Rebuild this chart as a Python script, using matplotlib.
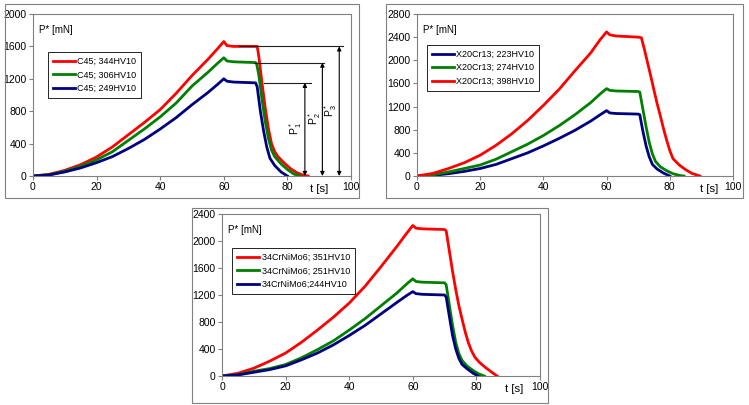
import numpy as np
import matplotlib.pyplot as plt
from matplotlib.patches import Rectangle

plt.rcParams['font.family'] = ['Liberation Sans', 'DejaVu Sans']

# --- C45 ---
c45_344_t = [0, 5, 10, 15, 20, 25, 30, 35, 40, 45, 50, 55, 58, 60, 61, 63, 70, 70.5, 71, 72, 73, 74, 75, 76, 77, 79, 81, 83, 85, 86.5]
c45_344_p = [0, 20, 70, 140, 235, 360, 510, 660, 820, 1020, 1240, 1440, 1570, 1660, 1610, 1600, 1600, 1600, 1480, 1150, 850, 590, 400, 300, 240, 160, 90, 40, 10, 0]
c45_306_t = [0, 5, 10, 15, 20, 25, 30, 35, 40, 45, 50, 55, 58, 60, 61, 63, 70, 70.3, 71, 72, 73, 74, 75, 76, 78, 80, 82, 84]
c45_306_p = [0, 15, 60, 120, 200, 300, 440, 580, 730, 900, 1110, 1280, 1390, 1460, 1420, 1410, 1400, 1390, 1250, 950, 680, 470, 320, 240, 150, 80, 25, 0]
c45_249_t = [0, 5, 10, 15, 20, 25, 30, 35, 40, 45, 50, 55, 58, 60, 61, 63, 70, 70.5, 71.5, 72.5, 73.5, 74.5, 76, 78, 80]
c45_249_p = [0, 12, 50, 100, 165, 240, 340, 450, 580, 720, 880, 1030, 1130, 1200, 1170, 1160, 1150, 1100, 800, 560, 360, 220, 130, 50, 0]

# --- X20Cr13 ---
x20_223_t = [0, 5, 10, 15, 20, 25, 30, 35, 40, 45, 50, 55, 58, 60, 61, 63, 70, 70.5, 71.5, 72.5, 73.5, 74.5, 76, 78, 80]
x20_223_p = [0, 10, 40, 80, 130, 200, 300, 400, 520, 650, 790, 950, 1060, 1130, 1090, 1080, 1070, 1060, 770, 520, 330, 200, 120, 50, 0]
x20_274_t = [0, 5, 10, 15, 20, 25, 30, 35, 40, 45, 50, 55, 58, 60, 61, 63, 70, 70.5, 71.5, 72.5, 73.5, 74.5, 75.5, 77, 79, 81, 83, 84.5]
x20_274_p = [0, 20, 70, 130, 190, 290, 420, 550, 700, 870, 1060, 1270, 1420, 1510, 1480, 1470, 1460, 1450, 1150, 850, 580, 380, 250, 160, 90, 40, 10, 0]
x20_398_t = [0, 5, 10, 15, 20, 25, 30, 35, 40, 45, 50, 55, 58, 60, 61, 63, 70, 71, 72, 73, 74, 75, 76, 77, 78, 79, 80, 81, 83, 85, 87, 89.5]
x20_398_p = [0, 45, 130, 230, 360, 530, 730, 960, 1220, 1500, 1820, 2130, 2360, 2490, 2440, 2420, 2400, 2390, 2180, 1950, 1720, 1480, 1250, 1040, 820, 620, 440, 300, 190, 110, 45, 0]

# --- 34CrNiMo6 ---
cr_351_t = [0, 5, 10, 15, 20, 25, 30, 35, 40, 45, 50, 55, 58, 60, 61, 63, 70, 70.5, 71.5, 72.5, 73.5, 74.5, 75.5, 76.5, 77.5, 78.5, 79.5, 81, 83, 85, 86.5]
cr_351_p = [0, 40, 115, 220, 340, 500, 680, 870, 1080, 1330, 1620, 1920, 2110, 2230, 2190, 2180, 2170, 2150, 1850, 1550, 1280, 1040, 840, 650, 490, 370, 280, 200, 120, 50, 0]
cr_251_t = [0, 5, 10, 15, 20, 25, 30, 35, 40, 45, 50, 55, 58, 60, 61, 63, 70, 70.5, 71.5, 72.5, 73.5, 74.5, 75.5, 77, 79, 81, 82.5]
cr_251_p = [0, 20, 70, 110, 170, 270, 390, 520, 680, 850, 1040, 1230, 1360, 1440, 1400, 1390, 1380, 1350, 1050, 750, 500, 330, 230, 150, 80, 25, 0]
cr_244_t = [0, 5, 10, 15, 20, 25, 30, 35, 40, 45, 50, 55, 58, 60, 61, 63, 70, 70.5, 71.5, 72.5, 73.5, 74.5, 75.5, 77, 79, 80.5]
cr_244_p = [0, 15, 55, 95, 150, 240, 340, 460, 600, 750, 920, 1090, 1190, 1250, 1220, 1210, 1200, 1170, 880, 600, 400, 260, 170, 110, 40, 0]

# annotation levels (panel 1)
p_levels = [1150, 1400, 1600]
p_line_start = [72.6, 69.5, 64.7]
p_line_end = [87.4, 91.4, 97.4]
p_arrow_x = [85.5, 91.0, 96.3]
p_label_x = [82.6, 88.4, 93.7]
p_label_y = [585, 710, 810]
p_labels = [r'$\mathregular{P_1^*}$', r'$\mathregular{P_2^*}$', r'$\mathregular{P_3^*}$']

RED, GREEN, BLUE = '#ff0000', '#008000', '#000080'
GRAY = '#808080'
W, H = 749, 405

fig = plt.figure(figsize=(W / 100, H / 100), dpi=100)


def px_axes(x0, y0, x1, y1):
    return fig.add_axes([x0 / W, 1 - y1 / H, (x1 - x0) / W, (y1 - y0) / H])


def frame(x0, y0, x1, y1):
    fig.add_artist(Rectangle((x0 / W, 1 - y1 / H), (x1 - x0) / W, (y1 - y0) / H,
                             transform=fig.transFigure, fill=False,
                             edgecolor=GRAY, lw=0.8))


def style(ax, ymax, leg_anchor, t_x):
    ax.set_xlim(0, 100)
    ax.set_ylim(0, ymax)
    ax.set_xticks(range(0, 101, 20))
    ax.set_yticks(range(0, ymax + 1, 400))
    for s in ax.spines.values():
        s.set_color(GRAY)
        s.set_linewidth(0.8)
    ax.tick_params(direction='out', length=3, width=0.8, color=GRAY,
                   labelsize=7.5, pad=1.5)
    ax.text(0.02, 0.9, 'P* [mN]', transform=ax.transAxes, fontsize=7,
            ha='left', va='center')
    ax.annotate('t [s]', xy=(t_x, 0), xycoords=('data', 'axes fraction'),
                xytext=(0, -9), textcoords='offset points', fontsize=8.2,
                ha='center', va='center')
    leg = ax.legend(loc='upper left', bbox_to_anchor=leg_anchor, borderaxespad=0,
                    fontsize=6.5, handlelength=2.4, labelspacing=0.5,
                    handletextpad=0.3, borderpad=0.55, fancybox=False,
                    edgecolor='black', framealpha=1)
    leg.get_frame().set_linewidth(0.6)


lw = 2.0

# panel 1
frame(5, 4, 359, 198)
ax1 = px_axes(33, 14, 351, 176)
ax1.plot(c45_344_t, c45_344_p, color=RED, lw=lw, label='C45; 344HV10')
ax1.plot(c45_306_t, c45_306_p, color=GREEN, lw=lw, label='C45; 306HV10')
ax1.plot(c45_249_t, c45_249_p, color=BLUE, lw=lw, label='C45; 249HV10')
for lev, xs, xe, xa, lx, ly, lab in zip(p_levels, p_line_start, p_line_end,
                                       p_arrow_x, p_label_x, p_label_y, p_labels):
    ax1.plot([xs, xe], [lev, lev], color='#202020', lw=0.8)
    ax1.annotate('', xy=(xa, lev), xytext=(xa, 0),
                 arrowprops=dict(arrowstyle='<|-|>', color='black', lw=0.8,
                                 mutation_scale=6, shrinkA=0, shrinkB=0))
    ax1.text(lx, ly, lab, rotation=90, fontsize=7.5, ha='center', va='center')
style(ax1, 2000, (0.047, 0.765), 90)

# panel 2
frame(386, 4, 743, 198)
ax2 = px_axes(417, 14, 733, 176)
ax2.plot(x20_223_t, x20_223_p, color=BLUE, lw=lw, label='X20Cr13; 223HV10')
ax2.plot(x20_274_t, x20_274_p, color=GREEN, lw=lw, label='X20Cr13; 274HV10')
ax2.plot(x20_398_t, x20_398_p, color=RED, lw=lw, label='X20Cr13; 398HV10')
style(ax2, 2800, (0.032, 0.81), 92.5)

# panel 3
frame(192, 208, 548, 403)
ax3 = px_axes(222, 214, 540, 376)
ax3.plot(cr_351_t, cr_351_p, color=RED, lw=lw, label='34CrNiMo6; 351HV10')
ax3.plot(cr_251_t, cr_251_p, color=GREEN, lw=lw, label='34CrNiMo6; 251HV10')
ax3.plot(cr_244_t, cr_244_p, color=BLUE, lw=lw, label='34CrNiMo6;244HV10')
style(ax3, 2400, (0.032, 0.79), 92)

fig.savefig('out.png', dpi=100)
